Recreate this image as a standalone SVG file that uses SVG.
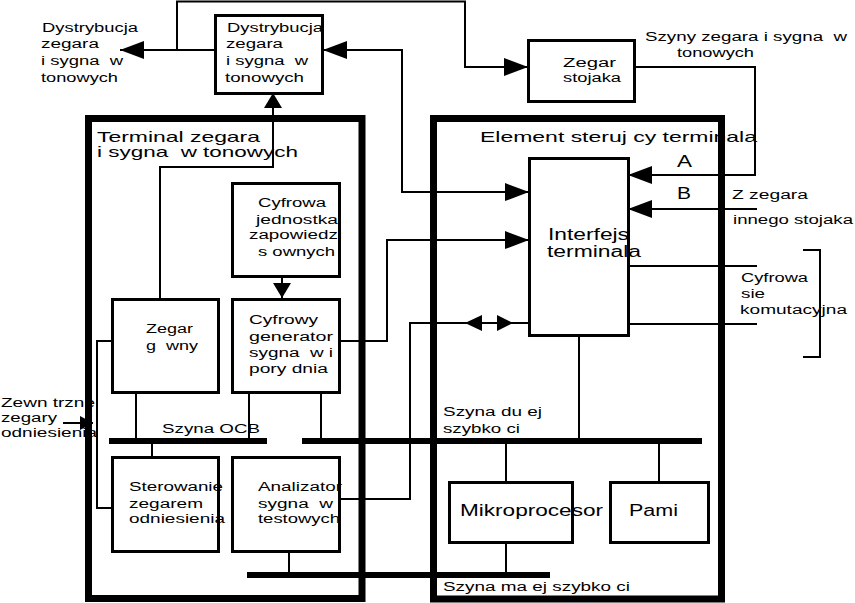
<svg xmlns="http://www.w3.org/2000/svg" width="855" height="603" viewBox="0 0 855 603">
<style>
text{font-family:"Liberation Sans",Arial,Helvetica,sans-serif;fill:#000;white-space:pre}
.s{font-size:12.5px}
.m{font-size:14.5px}
.l{font-size:16px}
.box{fill:#fff;stroke:#000;stroke-width:3}
.big{fill:none;stroke:#000;stroke-width:7}
.ln{fill:none;stroke:#000;stroke-width:2}
.bus{fill:none;stroke:#000;stroke-width:6}
</style>
<defs>
<marker id="ah" markerUnits="userSpaceOnUse" markerWidth="26" markerHeight="18" refX="24" refY="9" orient="auto"><path d="M0,0 L24,9 L0,18 z" fill="#000"/></marker>
<marker id="ahs" markerUnits="userSpaceOnUse" markerWidth="26" markerHeight="18" refX="24" refY="9" orient="auto-start-reverse"><path d="M0,0 L24,9 L0,18 z" fill="#000"/></marker>
<marker id="sh" markerUnits="userSpaceOnUse" markerWidth="16" markerHeight="18" refX="15" refY="9" orient="auto"><path d="M0,0 L15,9 L0,18 z" fill="#000"/></marker>
<marker id="ex" markerUnits="userSpaceOnUse" markerWidth="14" markerHeight="14" refX="13" refY="7" orient="auto"><path d="M0,0 L13,7 L0,14 z" fill="#000"/></marker>
</defs>
<rect width="855" height="603" fill="#fff"/>

<g id="connectors">
<polyline class="ln" points="177,50 177,1.5 465,1.5 465,67 528,67" marker-end="url(#ah)"/>
<line class="ln" x1="215" y1="50" x2="120" y2="50" marker-end="url(#ah)"/>
<polyline class="ln" points="323,50 402,50 402,192 529,192" marker-start="url(#ahs)" marker-end="url(#ah)"/>
<polyline class="ln" points="160,299 160,167 273,167 273,93" marker-end="url(#sh)"/>
<line class="ln" x1="282" y1="277" x2="282" y2="298" marker-end="url(#sh)"/>
<polyline class="ln" points="340,341 387,341 387,240 529,240" marker-end="url(#ah)"/>
<polyline class="ln" points="340,499 410,499 410,323 530,323"/>
<path d="M465,323 L482,315 L482,331 z M513,323 L497,315 L497,331 z" fill="#000"/>
<polyline class="ln" points="635,67 755,67 755,175 628,175" marker-end="url(#ah)"/>
<line class="ln" x1="757" y1="209" x2="628" y2="209" marker-end="url(#ah)"/>
<line class="ln" x1="629" y1="266" x2="757" y2="266"/>
<line class="ln" x1="629" y1="324" x2="757" y2="324"/>
<polyline class="ln" points="803,250 820,250 820,357 803,357"/>
<line class="ln" x1="579" y1="336" x2="579" y2="441"/>
<polyline class="ln" points="112,341 97,341 97,508 112,508"/>
<line class="ln" x1="63" y1="423" x2="93" y2="423" marker-end="url(#ex)"/>
<line class="ln" x1="136" y1="393" x2="136" y2="441"/>
<line class="ln" x1="249" y1="393" x2="249" y2="441"/>
<line class="ln" x1="321" y1="393" x2="321" y2="441"/>
<line class="ln" x1="152" y1="441" x2="152" y2="457"/>
<line class="ln" x1="289" y1="552" x2="289" y2="575"/>
<line class="ln" x1="506" y1="441" x2="506" y2="482"/>
<line class="ln" x1="659" y1="441" x2="659" y2="482"/>
<line class="ln" x1="506" y1="543" x2="506" y2="575"/>
<line class="bus" x1="109" y1="441" x2="267" y2="441"/>
<line class="bus" x1="302" y1="441" x2="702" y2="441"/>
<line class="bus" x1="247" y1="575" x2="550" y2="575"/>
</g>

<g id="terminal">
<rect class="big" x="88.5" y="118.5" width="273.5" height="480"/>
<text class="m" x="97" y="142" textLength="163" lengthAdjust="spacingAndGlyphs">Terminal zegara</text>
<text class="m" x="97" y="157" textLength="201" lengthAdjust="spacingAndGlyphs">i sygna  w tonowych</text>
</g>

<g id="element">
<rect class="big" x="433.5" y="118.5" width="288" height="480.5"/>
<text class="m" x="480" y="142" textLength="277" lengthAdjust="spacingAndGlyphs">Element steruj cy terminala</text>
</g>

<g id="dystrybucja-ext">
<text class="s" x="42" y="32" textLength="96" lengthAdjust="spacingAndGlyphs">Dystrybucja</text>
<text class="s" x="41" y="48" textLength="58" lengthAdjust="spacingAndGlyphs">zegara</text>
<text class="s" x="41" y="65" textLength="82" lengthAdjust="spacingAndGlyphs">i sygna  w</text>
<text class="s" x="41" y="82" textLength="77" lengthAdjust="spacingAndGlyphs">tonowych</text>
</g>

<g id="dystrybucja">
<rect class="box" x="215.5" y="15.5" width="107" height="78"/>
<text class="s" x="227" y="32" textLength="96" lengthAdjust="spacingAndGlyphs">Dystrybucja</text>
<text class="s" x="226" y="48" textLength="57" lengthAdjust="spacingAndGlyphs">zegara</text>
<text class="s" x="226" y="65" textLength="82" lengthAdjust="spacingAndGlyphs">i sygna  w</text>
<text class="s" x="225" y="82" textLength="79" lengthAdjust="spacingAndGlyphs">tonowych</text>
</g>

<g id="zegar-stojaka">
<rect class="box" x="528.5" y="40.5" width="106" height="61"/>
<text class="s" x="563" y="67" textLength="53" lengthAdjust="spacingAndGlyphs">Zegar</text>
<text class="s" x="563" y="82" textLength="58" lengthAdjust="spacingAndGlyphs">stojaka</text>
</g>

<g id="szyny-label">
<text class="s" x="645" y="41" textLength="202" lengthAdjust="spacingAndGlyphs">Szyny zegara i sygna  w</text>
<text class="s" x="677" y="57" textLength="77" lengthAdjust="spacingAndGlyphs">tonowych</text>
</g>

<g id="cyfrowa-jednostka">
<rect class="box" x="232.5" y="183.5" width="107" height="93"/>
<text class="s" x="258" y="207" textLength="68" lengthAdjust="spacingAndGlyphs">Cyfrowa</text>
<text class="s" x="256" y="224" textLength="82" lengthAdjust="spacingAndGlyphs">jednostka</text>
<text class="s" x="249" y="239" textLength="93" lengthAdjust="spacingAndGlyphs">zapowiedzi</text>
<text class="s" x="258" y="256" textLength="77" lengthAdjust="spacingAndGlyphs">s ownych</text>
</g>

<g id="zegar-glowny">
<rect class="box" x="112.5" y="299.5" width="106" height="93"/>
<text class="s" x="146" y="333" textLength="47" lengthAdjust="spacingAndGlyphs">Zegar</text>
<text class="s" x="146" y="350" textLength="52" lengthAdjust="spacingAndGlyphs">g  wny</text>
</g>

<g id="cyfrowy-generator">
<rect class="box" x="232.5" y="299.5" width="107" height="93"/>
<text class="s" x="249" y="324" textLength="69" lengthAdjust="spacingAndGlyphs">Cyfrowy</text>
<text class="s" x="249" y="341" textLength="84" lengthAdjust="spacingAndGlyphs">generator</text>
<text class="s" x="249" y="357" textLength="84" lengthAdjust="spacingAndGlyphs">sygna  w i</text>
<text class="s" x="249" y="373" textLength="79" lengthAdjust="spacingAndGlyphs">pory dnia</text>
</g>

<g id="zewnetrzne">
<text class="s" x="1" y="407" textLength="94" lengthAdjust="spacingAndGlyphs">Zewn trzne</text>
<text class="s" x="1" y="422" textLength="56" lengthAdjust="spacingAndGlyphs">zegary</text>
<text class="s" x="1" y="437" textLength="96" lengthAdjust="spacingAndGlyphs">odniesienia</text>
</g>

<g id="szyna-ocb">
<text class="s" x="162" y="433" textLength="98" lengthAdjust="spacingAndGlyphs">Szyna OCB</text>
</g>

<g id="sterowanie">
<rect class="box" x="112.5" y="457.5" width="106" height="94"/>
<text class="s" x="129" y="491" textLength="94" lengthAdjust="spacingAndGlyphs">Sterowanie</text>
<text class="s" x="129" y="508" textLength="74" lengthAdjust="spacingAndGlyphs">zegarem</text>
<text class="s" x="129" y="523" textLength="96" lengthAdjust="spacingAndGlyphs">odniesienia</text>
</g>

<g id="analizator">
<rect class="box" x="232.5" y="457.5" width="107" height="94"/>
<text class="s" x="258" y="491" textLength="84" lengthAdjust="spacingAndGlyphs">Analizator</text>
<text class="s" x="258" y="508" textLength="75" lengthAdjust="spacingAndGlyphs">sygna  w</text>
<text class="s" x="258" y="523" textLength="82" lengthAdjust="spacingAndGlyphs">testowych</text>
</g>

<g id="interfejs">
<rect class="box" x="529.5" y="158.5" width="99" height="177"/>
<text class="l" x="548" y="240" textLength="81" lengthAdjust="spacingAndGlyphs">Interfejs</text>
<text class="l" x="547" y="257" textLength="94" lengthAdjust="spacingAndGlyphs">terminala</text>
</g>

<g id="labels-ab">
<text class="l" x="677" y="167" textLength="15" lengthAdjust="spacingAndGlyphs">A</text>
<text class="l" x="677" y="199" textLength="14" lengthAdjust="spacingAndGlyphs">B</text>
<text class="s" x="732" y="199" textLength="76" lengthAdjust="spacingAndGlyphs">Z zegara</text>
<text class="s" x="733" y="224" textLength="120" lengthAdjust="spacingAndGlyphs">innego stojaka</text>
</g>

<g id="siec">
<text class="s" x="741" y="282" textLength="67" lengthAdjust="spacingAndGlyphs">Cyfrowa</text>
<text class="s" x="741" y="298" textLength="24" lengthAdjust="spacingAndGlyphs">sie</text>
<text class="s" x="740" y="314" textLength="107" lengthAdjust="spacingAndGlyphs">komutacyjna</text>
</g>

<g id="szyna-duzej">
<text class="s" x="443" y="416" textLength="99" lengthAdjust="spacingAndGlyphs">Szyna du ej</text>
<text class="s" x="443" y="433" textLength="77" lengthAdjust="spacingAndGlyphs">szybko ci</text>
</g>

<g id="mikroprocesor">
<rect class="box" x="449.5" y="482.5" width="123" height="60"/>
<text class="l" x="460" y="516" textLength="143" lengthAdjust="spacingAndGlyphs">Mikroprocesor</text>
</g>

<g id="pamiec">
<rect class="box" x="610.5" y="482.5" width="98" height="60"/>
<text class="l" x="629" y="516" textLength="49" lengthAdjust="spacingAndGlyphs">Pami</text>
</g>

<g id="szyna-malej">
<text class="s" x="443" y="591" textLength="187" lengthAdjust="spacingAndGlyphs">Szyna ma ej szybko ci</text>
</g>
</svg>
